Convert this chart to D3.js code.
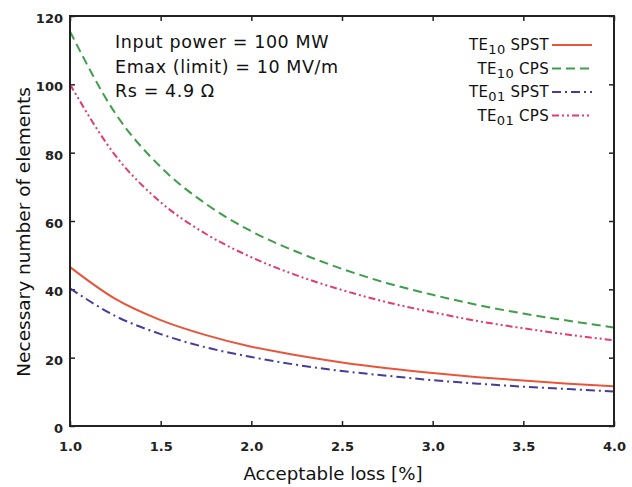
<!DOCTYPE html>
<html>
<head>
<meta charset="utf-8">
<script src="https://cdnjs.cloudflare.com/ajax/libs/d3/7.8.5/d3.min.js"></script>
<style>
body { margin: 0; background: #fff; }
text { font-family: "DejaVu Sans", sans-serif; }
</style>
</head>
<body>
<div id="chart"></div>
<script>
// values
var lossValues = [1.0, 1.25, 1.5, 1.75, 2.0, 2.25, 2.5, 2.75, 3.0, 3.25, 3.5, 3.75, 4.0];
var te10Spst = [46.5, 37.2, 31, 26.6, 23.2, 20.7, 18.6, 16.9, 15.5, 14.3, 13.3, 12.4, 11.6];
var te10Cps  = [115.5, 91.5, 75.8, 65, 57, 51, 46, 41.8, 38.4, 35.4, 32.9, 30.8, 28.8];
var te01Spst = [40.3, 32.2, 26.9, 23, 20.2, 17.9, 16.1, 14.7, 13.4, 12.4, 11.5, 10.8, 10.1];
var te01Cps  = [100, 79.2, 65.5, 56.2, 49.4, 44.1, 39.8, 36.2, 33.3, 30.7, 28.6, 26.7, 25.1];
var xTicks = [1.0, 1.5, 2.0, 2.5, 3.0, 3.5, 4.0];
var yTicks = [0, 20, 40, 60, 80, 100, 120];
var notes = ["Input power = 100 MW", "Emax (limit) = 10 MV/m", "Rs = 4.9 \u03A9"];

var series = [
  {mode: "10", name: " SPST", vals: te10Spst, color: "#e9553a", dash: null},
  {mode: "10", name: " CPS", vals: te10Cps, color: "#3f9e4c", dash: "9,5"},
  {mode: "01", name: " SPST", vals: te01Spst, color: "#463c9c", dash: "9,4,2,4"},
  {mode: "01", name: " CPS", vals: te01Cps, color: "#e33b6f", dash: "7,3,2,3,2,3"}
];

var W = 632, H = 487;
var margin = {top: 16, right: 18, bottom: 61, left: 70},
    width = W - margin.left - margin.right,
    height = H - margin.top - margin.bottom;

var svg = d3.select("#chart").append("svg")
    .attr("width", W)
    .attr("height", H);
var g = svg.append("g")
    .attr("transform", "translate(" + margin.left + "," + margin.top + ")");

var x = d3.scaleLinear().domain([1, 4]).range([0, width]);
var y = d3.scaleLinear().domain([0, 120]).range([height, 0]);

// axes, ticks pointing inward on all four sides
g.append("g")
  .attr("class", "axis")
  .attr("transform", "translate(0," + height + ")")
  .call(d3.axisBottom(x).tickValues(xTicks).tickSize(-5).tickPadding(16).tickFormat(d3.format(".1f")));
g.append("g")
  .attr("class", "axis")
  .call(d3.axisTop(x).tickValues(xTicks).tickSize(-5).tickFormat(""));
g.append("g")
  .attr("class", "axis yl")
  .call(d3.axisLeft(y).tickValues(yTicks).tickSize(-5).tickPadding(7));
g.append("g")
  .attr("class", "axis")
  .attr("transform", "translate(" + width + ",0)")
  .call(d3.axisRight(y).tickValues(yTicks).tickSize(-5).tickFormat(""));

g.selectAll(".axis .domain").remove();
g.selectAll(".axis line").attr("stroke", "#222").attr("stroke-width", 1.5);
g.selectAll(".axis text")
  .attr("font-size", 13)
  .attr("font-weight", "bold")
  .attr("fill", "#222");
g.selectAll(".yl text").attr("dy", "0.5em");

// the curves
var line = d3.line()
  .x(function(d, i) { return x(lossValues[i]); })
  .y(function(d) { return y(d); })
  .curve(d3.curveMonotoneX);

g.selectAll(".curve")
  .data(series)
  .enter().append("path")
  .attr("class", "curve")
  .attr("d", function(d) { return line(d.vals); })
  .attr("fill", "none")
  .attr("stroke", function(d) { return d.color; })
  .attr("stroke-width", 2)
  .attr("stroke-dasharray", function(d) { return d.dash; });

// frame
g.append("rect")
  .attr("width", width)
  .attr("height", height)
  .attr("fill", "none")
  .attr("stroke", "#222")
  .attr("stroke-width", 2);

// annotation
g.selectAll(".note")
  .data(notes)
  .enter().append("text")
  .attr("class", "note")
  .attr("x", 45)
  .attr("y", function(d, i) { return 32 + i * 24.5; })
  .attr("font-size", 17.5)
  .attr("letter-spacing", 0.6)
  .attr("fill", "#111")
  .text(function(d) { return d; });

// legend
var leg = g.selectAll(".leg")
  .data(series)
  .enter().append("g")
  .attr("class", "leg")
  .attr("transform", function(d, i) { return "translate(0," + (29 + i * 23.5) + ")"; });

var lt = leg.append("text")
  .attr("x", 479)
  .attr("y", 5)
  .attr("text-anchor", "end")
  .attr("font-size", 15)
  .attr("letter-spacing", 0.3)
  .attr("fill", "#111");
lt.append("tspan").text("TE");
lt.append("tspan").attr("dy", 4).attr("font-size", 13).text(function(d) { return d.mode; });
lt.append("tspan").attr("dy", -4).text(function(d) { return d.name; });

leg.append("line")
  .attr("x1", 482)
  .attr("x2", 522)
  .attr("stroke", function(d) { return d.color; })
  .attr("stroke-width", 2)
  .attr("stroke-dasharray", function(d) { return d.dash; });

// axis titles
svg.append("text")
  .attr("x", 333)
  .attr("y", 480)
  .attr("text-anchor", "middle")
  .attr("font-size", 18.2)
  .attr("fill", "#111")
  .text("Acceptable loss [%]");

svg.append("text")
  .attr("transform", "translate(30,232) rotate(-90)")
  .attr("text-anchor", "middle")
  .attr("font-size", 18.5)
  .attr("fill", "#111")
  .text("Necessary number of elements");
</script>
</body>
</html>
